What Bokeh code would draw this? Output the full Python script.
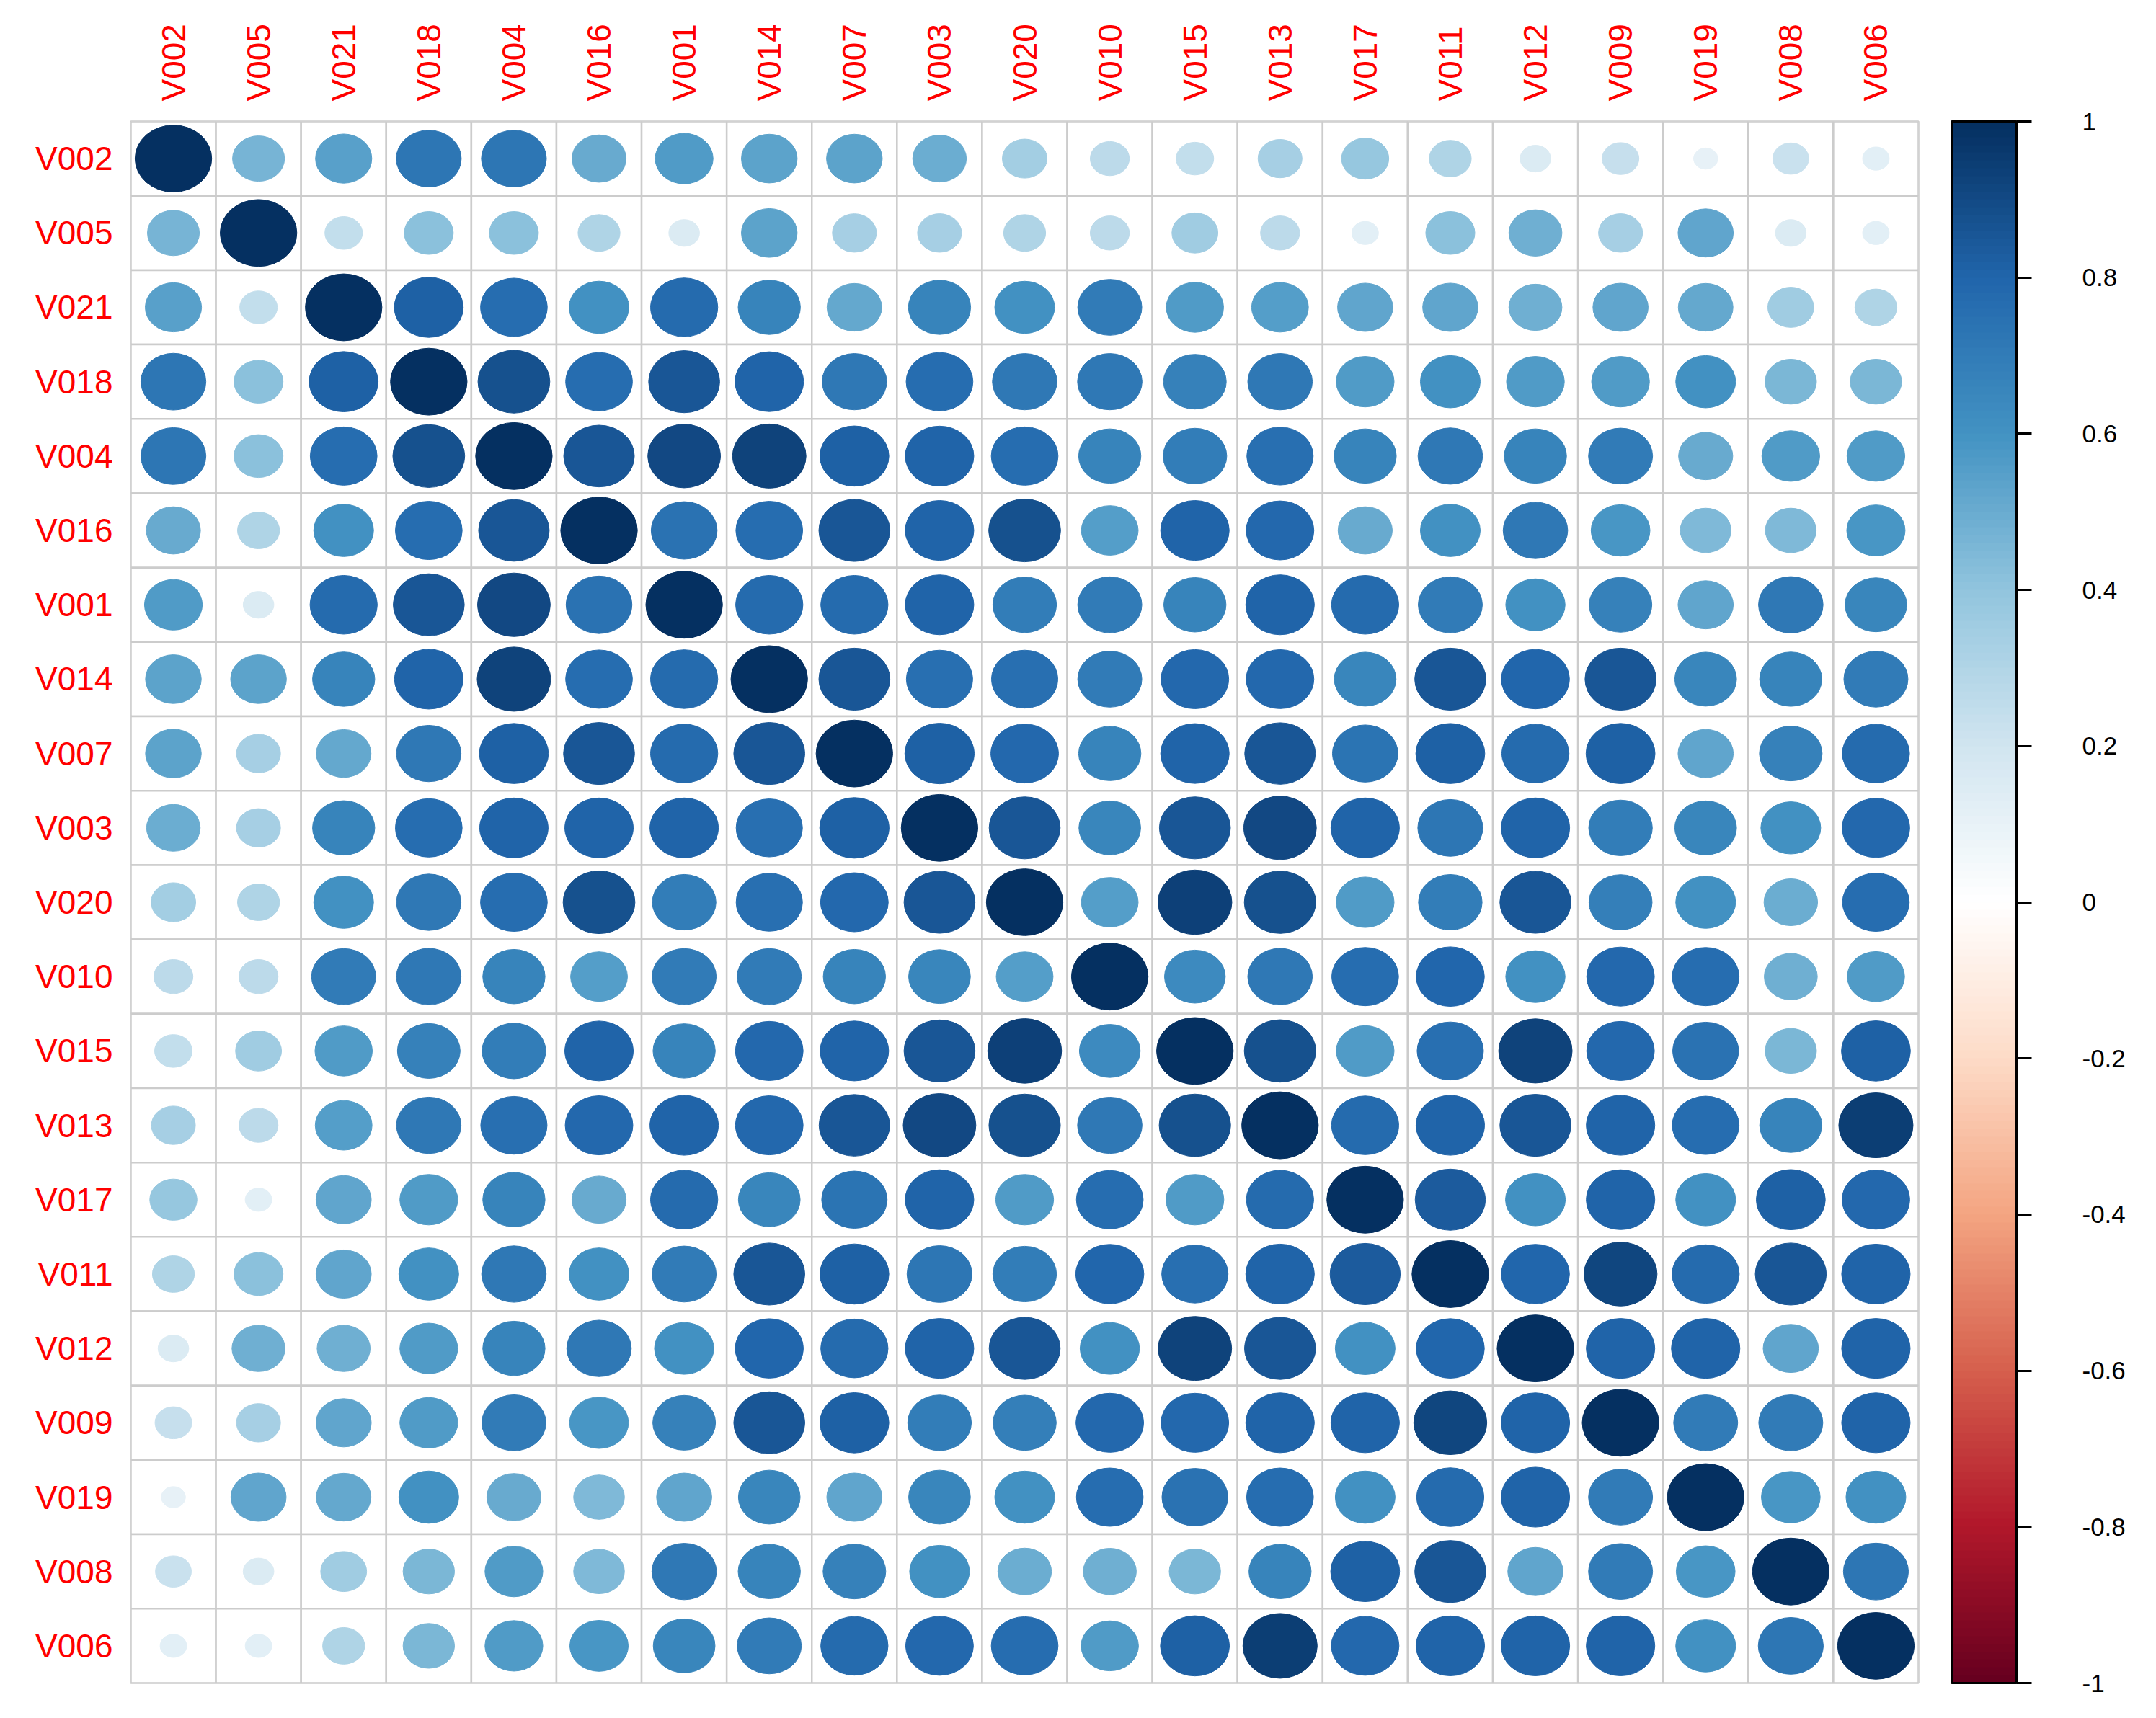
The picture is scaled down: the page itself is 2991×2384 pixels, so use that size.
import numpy as np
from bokeh.plotting import figure
from bokeh.models import (ColumnDataSource, LinearColorMapper, ColorBar,
                          FixedTicker, CustomJSTickFormatter, FactorRange)
from bokeh.embed import file_html
from bokeh.resources import INLINE

# ---- data -------------------------------------------------------------
variables = ["V002", "V005", "V021", "V018", "V004", "V016", "V001", "V014",
             "V007", "V003", "V020", "V010", "V015", "V013", "V017", "V011",
             "V012", "V009", "V019", "V008", "V006"]

# upper triangle: correlations of each variable with the ones after it
corr_V002 = [0.46, 0.54, 0.72, 0.72, 0.50, 0.57, 0.53, 0.53, 0.49, 0.34,
             0.26, 0.24, 0.33, 0.38, 0.30, 0.16, 0.23, 0.10, 0.22, 0.12]
corr_V005 = [0.24, 0.41, 0.41, 0.30, 0.16, 0.53, 0.33, 0.33, 0.30, 0.26,
             0.36, 0.26, 0.12, 0.41, 0.48, 0.33, 0.52, 0.16, 0.12]
corr_V021 = [0.81, 0.76, 0.61, 0.77, 0.66, 0.51, 0.66, 0.61, 0.70, 0.56,
             0.55, 0.52, 0.52, 0.48, 0.52, 0.51, 0.36, 0.30]
corr_V018 = [0.88, 0.76, 0.86, 0.80, 0.71, 0.76, 0.71, 0.71, 0.67, 0.71,
             0.57, 0.61, 0.57, 0.57, 0.61, 0.45, 0.45]
corr_V004 = [0.85, 0.90, 0.92, 0.81, 0.80, 0.76, 0.66, 0.69, 0.75, 0.66,
             0.71, 0.66, 0.70, 0.50, 0.57, 0.57]
corr_V016 = [0.74, 0.76, 0.86, 0.80, 0.88, 0.55, 0.80, 0.78, 0.50, 0.61,
             0.71, 0.59, 0.44, 0.44, 0.58]
corr_V001 = [0.77, 0.77, 0.80, 0.69, 0.70, 0.66, 0.80, 0.77, 0.70, 0.60,
             0.67, 0.52, 0.71, 0.65]
corr_V014 = [0.86, 0.75, 0.75, 0.70, 0.78, 0.78, 0.65, 0.86, 0.79, 0.86,
             0.65, 0.66, 0.70]
corr_V007 = [0.82, 0.78, 0.66, 0.80, 0.85, 0.73, 0.81, 0.77, 0.81, 0.52,
             0.67, 0.77]
corr_V003 = [0.86, 0.65, 0.86, 0.90, 0.80, 0.72, 0.80, 0.69, 0.65, 0.61,
             0.78]
corr_V020 = [0.55, 0.93, 0.87, 0.57, 0.69, 0.86, 0.68, 0.61, 0.49, 0.76]
corr_V010 = [0.63, 0.71, 0.76, 0.79, 0.60, 0.78, 0.76, 0.48, 0.56]
corr_V015 = [0.87, 0.57, 0.75, 0.92, 0.78, 0.74, 0.45, 0.81]
corr_V013 = [0.77, 0.80, 0.86, 0.80, 0.76, 0.66, 0.94]
corr_V017 = [0.84, 0.61, 0.80, 0.61, 0.81, 0.78]
corr_V011 = [0.79, 0.91, 0.77, 0.86, 0.80]
corr_V012 = [0.80, 0.80, 0.52, 0.80]
corr_V009 = [0.70, 0.70, 0.80]
corr_V019 = [0.59, 0.61]
corr_V008 = [0.72]

upper_rows = [corr_V002, corr_V005, corr_V021, corr_V018, corr_V004,
              corr_V016, corr_V001, corr_V014, corr_V007, corr_V003,
              corr_V020, corr_V010, corr_V015, corr_V013, corr_V017,
              corr_V011, corr_V012, corr_V009, corr_V019, corr_V008]

colorbar_ticks = [-1.0, -0.8, -0.6, -0.4, -0.2, 0.0, 0.2, 0.4, 0.6, 0.8, 1.0]

# ---- full symmetric matrix ---------------------------------------------
n = len(variables)
M = np.eye(n)
for i, row in enumerate(upper_rows):
    for k, v in enumerate(row):
        j = i + 1 + k
        M[i, j] = v
        M[j, i] = v

# corrplot RdBu palette (200 colours)
anchors = ["#67001F", "#B2182B", "#D6604D", "#F4A582", "#FDDBC7", "#FFFFFF",
           "#D1E5F0", "#92C5DE", "#4393C3", "#2166AC", "#053061"]
rgb = np.array([[int(c[i:i + 2], 16) for i in (1, 3, 5)] for c in anchors], float)
t_anchor = np.linspace(0, 1, len(anchors))
t = np.linspace(0, 1, 200)
palette = []
for tt in t:
    r = np.interp(tt, t_anchor, rgb[:, 0])
    g = np.interp(tt, t_anchor, rgb[:, 1])
    b = np.interp(tt, t_anchor, rgb[:, 2])
    palette.append("#%02x%02x%02x" % (int(round(r)), int(round(g)), int(round(b))))

mapper = LinearColorMapper(palette=palette, low=-1, high=1)

xs, ys, rs, ds = [], [], [], []
for i in range(n):
    for j in range(n):
        xs.append(variables[j])
        ys.append(variables[i])
        rs.append(M[i, j])
        ds.append(0.9 * np.sqrt(abs(M[i, j])))
src = ColumnDataSource(dict(x=xs, y=ys, r=rs, d=ds))

# ---- figure -----------------------------------------------------------
W, H = 2975, 2376
FL, FR, FT, FB = 181, 2661, 168, 2335
BAR_GAP = 46

p = figure(width=W, height=H,
           x_range=FactorRange(factors=variables),
           y_range=FactorRange(factors=variables[::-1]),
           x_axis_location="above",
           output_backend="svg", toolbar_location=None,
           min_border_left=FL, min_border_right=W - FR,
           min_border_top=FT, min_border_bottom=H - FB)

p.rect(x="x", y="y", width=1, height=1, source=src,
       fill_color="white", line_color="#CCCCCC", line_width=2.5)
p.ellipse(x="x", y="y", width="d", height="d", source=src,
          fill_color={"field": "r", "transform": mapper},
          line_color={"field": "r", "transform": mapper}, line_width=1)

p.grid.visible = False
p.outline_line_color = "#CCCCCC"
p.outline_line_width = 2.5
p.background_fill_color = "white"
p.border_fill_color = "white"

for ax in (p.xaxis, p.yaxis):
    ax.axis_line_color = None
    ax.major_tick_line_color = None
    ax.minor_tick_line_color = None
    ax.major_tick_out = 0
    ax.major_tick_in = 0
    ax.major_label_text_font = "Liberation Sans"
    ax.major_label_text_font_size = "46px"
    ax.major_label_text_color = "#FF0000"
p.xaxis.major_label_orientation = np.pi / 2
p.xaxis.major_label_standoff = 28
p.yaxis.major_label_standoff = 25

cb = ColorBar(color_mapper=mapper,
              ticker=FixedTicker(ticks=colorbar_ticks),
              formatter=CustomJSTickFormatter(code="return (Math.round(tick*10)/10).toString();"),
              major_label_text_font="Liberation Sans",
              major_label_text_font_size="35px",
              major_label_text_color="black",
              major_tick_out=21, major_tick_in=0,
              major_tick_line_color="black", major_tick_line_width=3,
              minor_tick_line_color=None,
              bar_line_color="black", bar_line_width=3,
              orientation="vertical",
              width=90, height=FB - FT,
              location=(FR - FL + BAR_GAP, 0),
              padding=0, margin=0, label_standoff=70,
              background_fill_color=None, border_line_color=None)
p.add_layout(cb, "center")

open("out.html", "w").write(file_html(p, INLINE))
